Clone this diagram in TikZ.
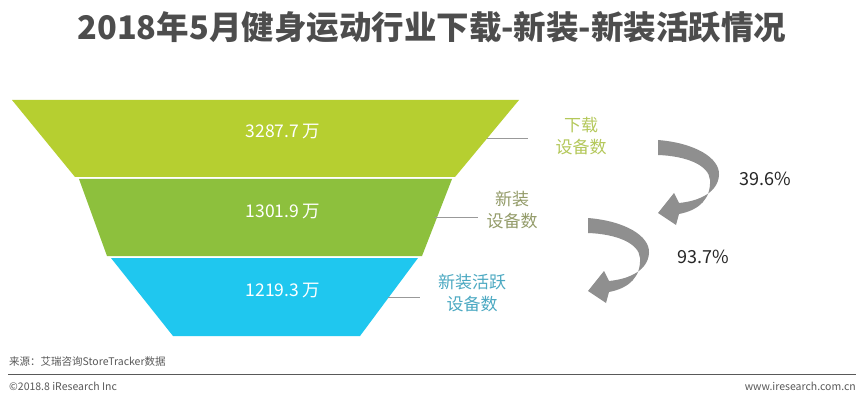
\documentclass[tikz,border=0pt]{standalone}
\usepackage{fontspec}
\setmainfont{Noto Sans CJK SC}
\definecolor{topc}{HTML}{B6CF30}
\definecolor{midc}{HTML}{8DC03D}
\definecolor{botc}{HTML}{1FC7EF}
\definecolor{titlec}{HTML}{4D4D4D}
\definecolor{laba}{HTML}{B4C85A}
\definecolor{labb}{HTML}{949C6A}
\definecolor{labc}{HTML}{4CA9C2}
\definecolor{arrowc}{HTML}{8F8F8F}
\definecolor{footc}{HTML}{595959}
\tikzset{
  band/.style={draw=none},
  valtxt/.style={font=\fontsize{17.5}{17.5}\selectfont, text=white},
  lab/.style={font=\fontsize{17}{22}\selectfont, align=center, inner sep=0pt},
  leader/.style={draw=gray!80, line width=0.8pt},
  pct/.style={font=\fontsize{18}{18}\selectfont, text=black!85},
  foot/.style={font=\fontsize{10.5}{12}\selectfont, text=footc, inner sep=0pt},
  curvarr/.pic={
    \fill[arrowc] (0,0) .. controls (37,3) and (62,18) .. (61,35)
      .. controls (60,52) and (42,61) .. (21,63)
      -- (16,53) -- (0,73) -- (18,85) -- (21,74)
      .. controls (42,70) and (53,58) .. (52,40)
      .. controls (51,25) and (28,16) .. (0,15) -- cycle;
  }
}
\begin{document}
\begin{tikzpicture}[x=1pt,y=-1pt]
\useasboundingbox[fill=white] (0,0) rectangle (864,398);
% title
\node[font=\bfseries\fontsize{32.5}{32.5}\selectfont, text=titlec] (title) at (432,27) {2018年5月健身运动行业下载-新装-新装活跃情况};
% funnel
\fill[topc] (12,100) -- (519,100) -- (455,177) -- (75,177) -- cycle;
\fill[midc] (79,179) -- (452,179) -- (422,256) -- (107,256) -- cycle;
\fill[botc] (111,258) -- (418,258) -- (360,336) -- (173,336) -- cycle;
\node[valtxt] (v1) at (283,132) {3287.7 万};
\node[valtxt] (v2) at (283,212) {1301.9 万};
\node[valtxt] (v3) at (283,291) {1219.3 万};
% labels
\coordinate (l1a) at (487,138); \coordinate (l1b) at (528,138);
\coordinate (l2a) at (435,217); \coordinate (l2b) at (478,217);
\coordinate (l3a) at (388,297); \coordinate (l3b) at (420,297);
\draw[leader] (l1a) -- (l1b);
\draw[leader] (l2a) -- (l2b);
\draw[leader] (l3a) -- (l3b);
\node[lab, text=laba] (t1) at (581,136) {下载\\设备数};
\node[lab, text=labb] (t2) at (512,210) {新装\\设备数};
\node[lab, text=labc] (t3) at (472,293) {新装活跃\\设备数};
% arrows
\pic at (658,140) {curvarr};
\pic at (588,218) {curvarr};
\node[pct] (p1) at (765,179) {39.6\%};
\node[pct] (p2) at (703,257) {93.7\%};
% footer
\node[foot, anchor=west] (src) at (9,362) {来源：艾瑞咨询StoreTracker数据};
\coordinate (fl) at (8,374); \coordinate (fr) at (856,374);
\draw[footc, line width=0.8pt] (fl) -- (fr);
\node[foot, anchor=west] (copy) at (9,386) {©2018.8 iResearch Inc};
\node[foot, anchor=east] (url) at (856,386) {www.iresearch.com.cn};
\end{tikzpicture}
\end{document}
